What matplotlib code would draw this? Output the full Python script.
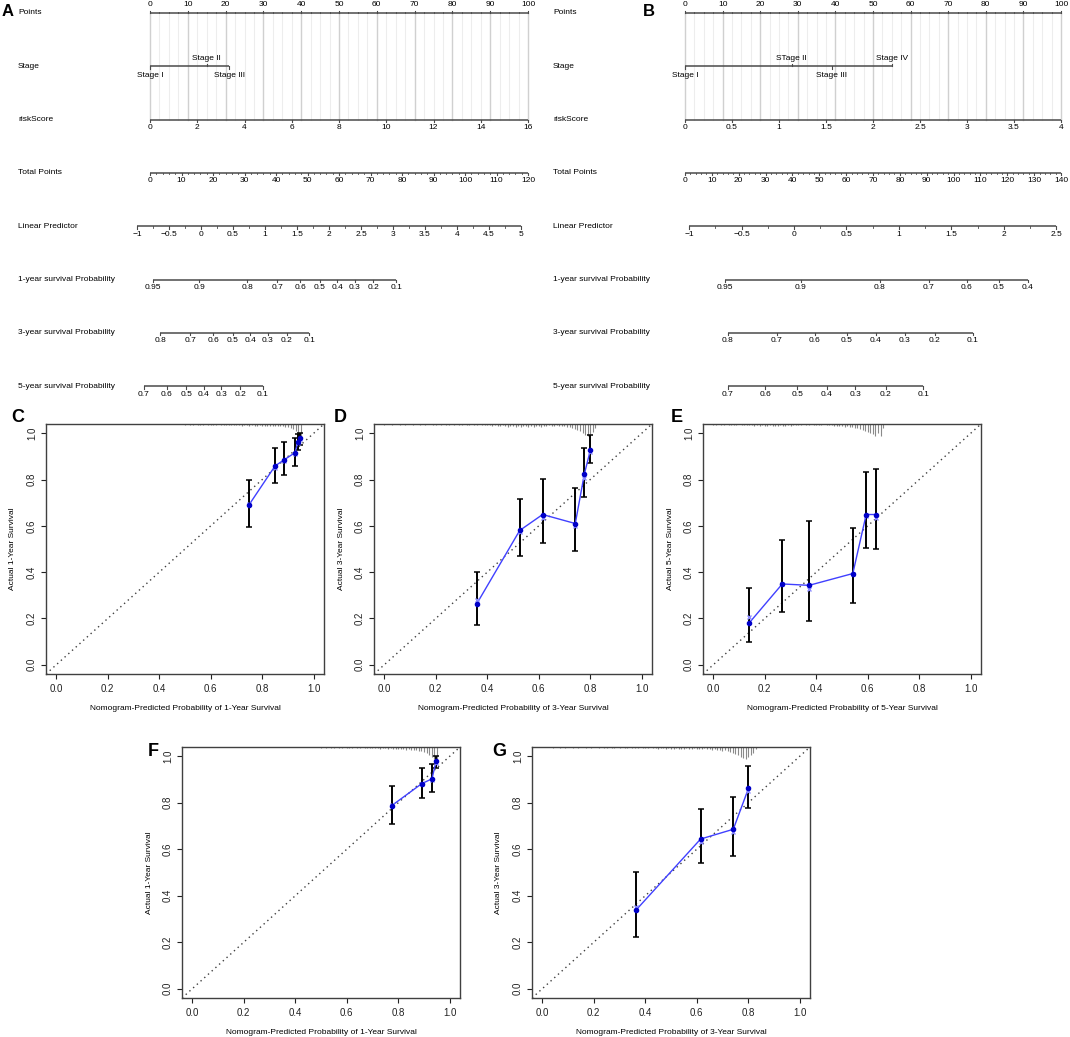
import numpy as np
import matplotlib.pyplot as plt

plt.rcParams['font.family'] = ['Liberation Sans', 'DejaVu Sans']

W, H = 1070, 1037   # figure size in pixels (dpi 100)

# ---------------- nomogram values ----------------
row_names = ['Points', 'Stage', 'riskScore', 'Total Points', 'Linear Predictor',
             '1-year survival Probability', '3-year survival Probability',
             '5-year survival Probability']
points_ticks = [0, 10, 20, 30, 40, 50, 60, 70, 80, 90, 100]

# A : training cohort
a_stage_names = ['Stage I', 'Stage II', 'Stage III']
a_stage_points = [0, 15, 21]
a_stage_above = [False, True, False]
a_risk_ticks = [0, 2, 4, 6, 8, 10, 12, 14, 16]
a_total_ticks = [0, 10, 20, 30, 40, 50, 60, 70, 80, 90, 100, 110, 120]
a_lp_ticks = [-1, -0.5, 0, 0.5, 1, 1.5, 2, 2.5, 3, 3.5, 4, 4.5, 5]
a_lp_zero = -0.797      # linear predictor at 0 total points
a_lp_slope = 0.04922    # linear predictor per total point
a_surv1 = [0.95, 0.9, 0.8, 0.7, 0.6, 0.5, 0.4, 0.3, 0.2, 0.1]
a_surv3 = [0.8, 0.7, 0.6, 0.5, 0.4, 0.3, 0.2, 0.1]
a_surv5 = [0.7, 0.6, 0.5, 0.4, 0.3, 0.2, 0.1]
a_base_surv = [0.897, 0.655, 0.417]   # 1/3/5-year baseline survival (lp = 0)

# B
b_stage_names = ['Stage I', 'STage II', 'Stage III', 'Stage IV']
b_stage_points = [0, 28.4, 39, 55]
b_stage_above = [False, True, False, True]
b_risk_ticks = [0, 0.5, 1, 1.5, 2, 2.5, 3, 3.5, 4]
b_total_ticks = [0, 10, 20, 30, 40, 50, 60, 70, 80, 90, 100, 110, 120, 130, 140]
b_lp_ticks = [-1, -0.5, 0, 0.5, 1, 1.5, 2, 2.5]
b_lp_zero = -1.0387
b_lp_slope = 0.02559
b_surv1 = [0.95, 0.9, 0.8, 0.7, 0.6, 0.5, 0.4]
b_surv3 = [0.8, 0.7, 0.6, 0.5, 0.4, 0.3, 0.2, 0.1]
b_surv5 = [0.7, 0.6, 0.5, 0.4, 0.3, 0.2, 0.1]
b_base_surv = [0.906, 0.657, 0.511]

# ---------------- calibration values ----------------
c_pred = [0.747, 0.850, 0.885, 0.927, 0.939, 0.947]
c_obs = [0.688, 0.859, 0.885, 0.916, 0.964, 0.981]
c_corr = [0.695, 0.852, 0.880, 0.912, 0.958, 0.975]
c_lo = [0.595, 0.786, 0.818, 0.860, 0.928, 0.950]
c_hi = [0.797, 0.938, 0.961, 0.981, 0.998, 1.000]
c_spikes = [1, 0, 1, 1, 0, 1, 1, 1, 0, 1, 1, 1, 1, 0, 1, 1, 1, 1, 1, 1,
            1, 1, 2, 1, 1, 2, 1, 2, 2, 1,
            2, 2, 3, 2, 2, 3, 3, 2, 3, 4,
            4, 5, 6, 8, 12, 14]
c_spike_start = 0.50

d_pred = [0.359, 0.526, 0.615, 0.742, 0.777, 0.801]
d_obs = [0.263, 0.580, 0.649, 0.610, 0.823, 0.929]
d_corr = [0.279, 0.575, 0.635, 0.599, 0.805, 0.919]
d_lo = [0.170, 0.469, 0.528, 0.491, 0.725, 0.870]
d_hi = [0.401, 0.714, 0.804, 0.763, 0.938, 0.993]
d_spikes = [1, 0, 0, 1, 0, 0, 1, 0, 1, 0, 0, 1, 0, 0, 1, 0, 1, 0, 0, 1,
            1, 0, 1, 0, 1, 1, 0, 1, 0, 1, 1, 0, 1, 1, 0, 1, 1, 0, 1, 1,
            1, 1, 2, 1, 2, 2, 1, 2, 3, 2, 2, 3, 2, 3, 2, 2, 3, 2, 3, 2,
            2, 3, 2, 2, 1, 2, 2, 1, 2, 2,
            2, 3, 3, 4, 5, 6, 7, 9, 11, 12,
            10, 8, 4]
d_spike_start = 0.00

e_pred = [0.139, 0.268, 0.372, 0.542, 0.594, 0.632]
e_obs = [0.180, 0.349, 0.343, 0.394, 0.649, 0.649]
e_corr = [0.205, 0.349, 0.329, 0.394, 0.642, 0.635]
e_lo = [0.098, 0.227, 0.190, 0.267, 0.505, 0.501]
e_hi = [0.332, 0.541, 0.620, 0.589, 0.834, 0.844]
e_spikes = [1, 1, 0, 1, 1, 0, 1, 1, 1, 1, 0, 1, 1, 1, 1, 1, 2, 1, 2, 1,
            2, 2, 1, 2, 2, 2, 1, 2, 2, 1, 2, 1, 1, 1, 1, 0, 1, 1, 0, 1,
            1, 1, 1, 0, 1, 1, 1, 2, 2, 2,
            2, 3, 2, 3, 3, 4, 4, 5, 6, 7,
            8, 9, 10, 12, 9, 12, 4]
e_spike_start = 0.00

f_pred = [0.775, 0.891, 0.931, 0.947]
f_obs = [0.788, 0.882, 0.903, 0.978]
f_corr = [0.792, 0.880, 0.900, 0.972]
f_lo = [0.708, 0.821, 0.847, 0.950]
f_hi = [0.873, 0.951, 0.965, 1.000]
f_spikes = [1, 0, 1, 0, 1, 1, 0, 1, 1, 0, 1, 1, 1, 0, 1, 1, 0, 1, 1, 1,
            1, 1, 1, 2, 1, 1, 2, 1, 2, 2,
            2, 2, 2, 3, 2, 3, 3, 3, 4, 4,
            5, 6, 8, 10, 12, 12]
f_spike_start = 0.50

g_pred = [0.363, 0.615, 0.742, 0.801]
g_obs = [0.337, 0.644, 0.686, 0.862]
g_corr = [0.353, 0.633, 0.676, 0.852]
g_lo = [0.223, 0.539, 0.570, 0.777]
g_hi = [0.504, 0.774, 0.827, 0.958]
g_spikes = [1, 0, 0, 1, 0, 1, 0, 0, 1, 0, 1, 0, 0, 1, 0, 1, 0, 0, 1, 0,
            1, 1, 0, 1, 1, 0, 1, 0, 1, 1, 0, 1, 1, 1, 0, 1, 1, 1, 0, 1,
            1, 2, 1, 1, 2, 1, 2, 2, 1, 2, 2, 2, 1, 2, 2, 1, 2, 2, 2, 1,
            2, 2, 3, 2, 3, 3, 4, 3, 4, 5,
            6, 7, 8, 10, 11, 12, 10, 8, 6, 2]
g_spike_start = 0.04

AX_COL = '#4a4a4a'
fig = plt.figure(figsize=(W / 100, H / 100), dpi=100)


def fmt(v):
    return f'{v:g}'.replace('-', '\u2212')


def scale_row(ax, y, xs, labels, up=False, minor=()):
    ax.plot([min(xs), max(xs)], [y, y], color=AX_COL, lw=1.1,
            solid_capstyle='butt', zorder=2)
    s = -1 if up else 1
    for x in minor:
        ax.plot([x, x], [y, y + s * 1.5], color=AX_COL, lw=0.6, zorder=2)
    for x, lab in zip(xs, labels):
        ax.plot([x, x], [y, y + s * 2.5], color=AX_COL, lw=0.8, zorder=2)
        ax.text(x, y + s * 8, lab, ha='center', va='center', fontsize=6)


def nomogram(px_left, px_zero, px_hundred, letter, stage_names, stage_points,
             stage_above, risk_ticks, total_ticks, lp_ticks, lp_zero, lp_slope,
             surv_lists, base_surv):
    ppu = (px_hundred - px_zero) / 100.0
    ax = fig.add_axes([px_left / W, 1 - 395 / H, 535 / W, 395 / H])
    ax.set_xlim((px_left - px_zero) / ppu, (px_left + 535 - px_zero) / ppu)
    ax.set_ylim(395, 0)
    ax.axis('off')
    rows = 13 + 53.3 * np.arange(8)
    total_max = total_ticks[-1]

    def tp_to_x(tp):
        return np.asarray(tp, dtype=float) * 100.0 / total_max

    def lp_to_x(lp):
        return tp_to_x((np.asarray(lp, dtype=float) - lp_zero) / lp_slope)

    # grid between Points and riskScore
    for g in np.arange(0, 100.01, 2.5):
        major = abs(g % 10) < 1e-9
        ax.plot([g, g], [rows[0], rows[2]], color='#d0d0d0' if major else '#ededed',
                lw=1.0 if major else 0.8, zorder=0)

    label_x = (px_left + 18 - px_zero) / ppu
    for y, name in zip(rows, row_names):
        ax.text(label_x, y, name, ha='left', va='center', fontsize=6)

    minor_pts = [p for p in np.arange(0, 100, 2.5) if p % 10 != 0]
    scale_row(ax, rows[0], points_ticks, [fmt(p) for p in points_ticks], up=True,
              minor=minor_pts)

    # stage
    ax.plot([min(stage_points), max(stage_points)], [rows[1], rows[1]],
            color=AX_COL, lw=1.1, solid_capstyle='butt')
    for p, name, ab in zip(stage_points, stage_names, stage_above):
        s = -1 if ab else 1
        ax.plot([p, p], [rows[1], rows[1] + s * 2.5], color=AX_COL, lw=0.8)
        ax.text(p, rows[1] + s * (8 if ab else 9), name, ha='center', va='center',
                fontsize=6)

    risk_x = np.asarray(risk_ticks, dtype=float) * 100.0 / risk_ticks[-1]
    scale_row(ax, rows[2], risk_x, [fmt(r) for r in risk_ticks])

    scale_row(ax, rows[3], tp_to_x(total_ticks), [fmt(t) for t in total_ticks],
              minor=tp_to_x(np.arange(0, total_max, 2)))

    scale_row(ax, rows[4], lp_to_x(lp_ticks), [fmt(v) for v in lp_ticks],
              minor=lp_to_x(np.arange(lp_ticks[0], lp_ticks[-1], 0.25)))

    for k, (svals, s0) in enumerate(zip(surv_lists, base_surv)):
        sv = np.asarray(svals, dtype=float)
        lp = np.log(np.log(sv) / np.log(s0))
        scale_row(ax, rows[5 + k], lp_to_x(lp), [fmt(v) for v in svals])

    fig.text(letter[1] / W, 1 - 12 / H, letter[0], fontsize=12, fontweight='bold',
             ha='center', va='center')


nomogram(0, 150, 528, ('A', 8), a_stage_names, a_stage_points, a_stage_above,
         a_risk_ticks, a_total_ticks, a_lp_ticks, a_lp_zero, a_lp_slope,
         [a_surv1, a_surv3, a_surv5], a_base_surv)
nomogram(535, 685, 1061, ('B', 649), b_stage_names, b_stage_points, b_stage_above,
         b_risk_ticks, b_total_ticks, b_lp_ticks, b_lp_zero, b_lp_slope,
         [b_surv1, b_surv3, b_surv5], b_base_surv)


def calib(box, letter, letter_xy, pred, obs, corr, lo, hi, spike_start, spikes, year):
    x0, y0, x1, y1 = box
    ax = fig.add_axes([x0 / W, 1 - y1 / H, (x1 - x0) / W, (y1 - y0) / H])
    ax.set_xlim(-0.04, 1.04)
    ax.set_ylim(-0.04, 1.04)
    pred = np.asarray(pred)
    obs = np.asarray(obs)
    ax.plot([-0.04, 1.04], [-0.04, 1.04], ls=(0, (1, 2.6)), color='#404040', lw=1)
    sx = spike_start + 0.01 * np.arange(len(spikes))
    sh = np.asarray(spikes, dtype=float) / max(spikes) * 0.05
    ax.vlines(sx[sh > 0], 1.04 - sh[sh > 0], 1.04, color='#8a8a8a', lw=0.8)
    ax.errorbar(pred, obs, yerr=[obs - np.asarray(lo), np.asarray(hi) - obs],
                fmt='none', ecolor='black', elinewidth=1.4, capsize=2.2, capthick=1.1)
    ax.plot(pred, obs, color='#4040ff', lw=1)
    ax.plot(pred, corr, ls='none', marker='x', ms=3.5, mew=1, color='#8c8cff')
    ax.plot(pred, obs, ls='none', marker='o', ms=3, color='#0000c8')
    ticks = [0, 0.2, 0.4, 0.6, 0.8, 1.0]
    ax.set_xticks(ticks)
    ax.set_yticks(ticks)
    ax.set_xticklabels([f'{t:.1f}' for t in ticks])
    ax.set_yticklabels([f'{t:.1f}' for t in ticks])
    ax.tick_params(direction='out', length=3.6, width=0.8, labelsize=7, pad=3.5,
                   colors='#222222')
    ax.tick_params(axis='y', labelrotation=90, pad=3)
    for lab in ax.get_yticklabels():
        lab.set_va('center')
    for sp in ax.spines.values():
        sp.set_color('#404040')
        sp.set_linewidth(1)
    w = x1 - x0
    h = y1 - y0
    ax.text(0.5, -34 / h, f'Nomogram-Predicted Probability of {year}-Year Survival',
            transform=ax.transAxes, ha='center', va='center', fontsize=6)
    ax.text(-33 / w, 0.5, f'Actual {year}-Year Survival', transform=ax.transAxes,
            ha='center', va='center', rotation=90, fontsize=6)
    fig.text(letter_xy[0] / W, 1 - letter_xy[1] / H, letter, fontsize=13,
             fontweight='bold', ha='center', va='center')


calib((46, 424, 324, 674), 'C', (18, 418), c_pred, c_obs, c_corr, c_lo, c_hi,
      c_spike_start, c_spikes, 1)
calib((374, 424, 652, 674), 'D', (340, 418), d_pred, d_obs, d_corr, d_lo, d_hi,
      d_spike_start, d_spikes, 3)
calib((703, 424, 981, 674), 'E', (677, 418), e_pred, e_obs, e_corr, e_lo, e_hi,
      e_spike_start, e_spikes, 5)
calib((182, 747, 460, 998), 'F', (153, 752), f_pred, f_obs, f_corr, f_lo, f_hi,
      f_spike_start, f_spikes, 1)
calib((532, 747, 810, 998), 'G', (499, 752), g_pred, g_obs, g_corr, g_lo, g_hi,
      g_spike_start, g_spikes, 3)

fig.savefig('out.png', dpi=100)
